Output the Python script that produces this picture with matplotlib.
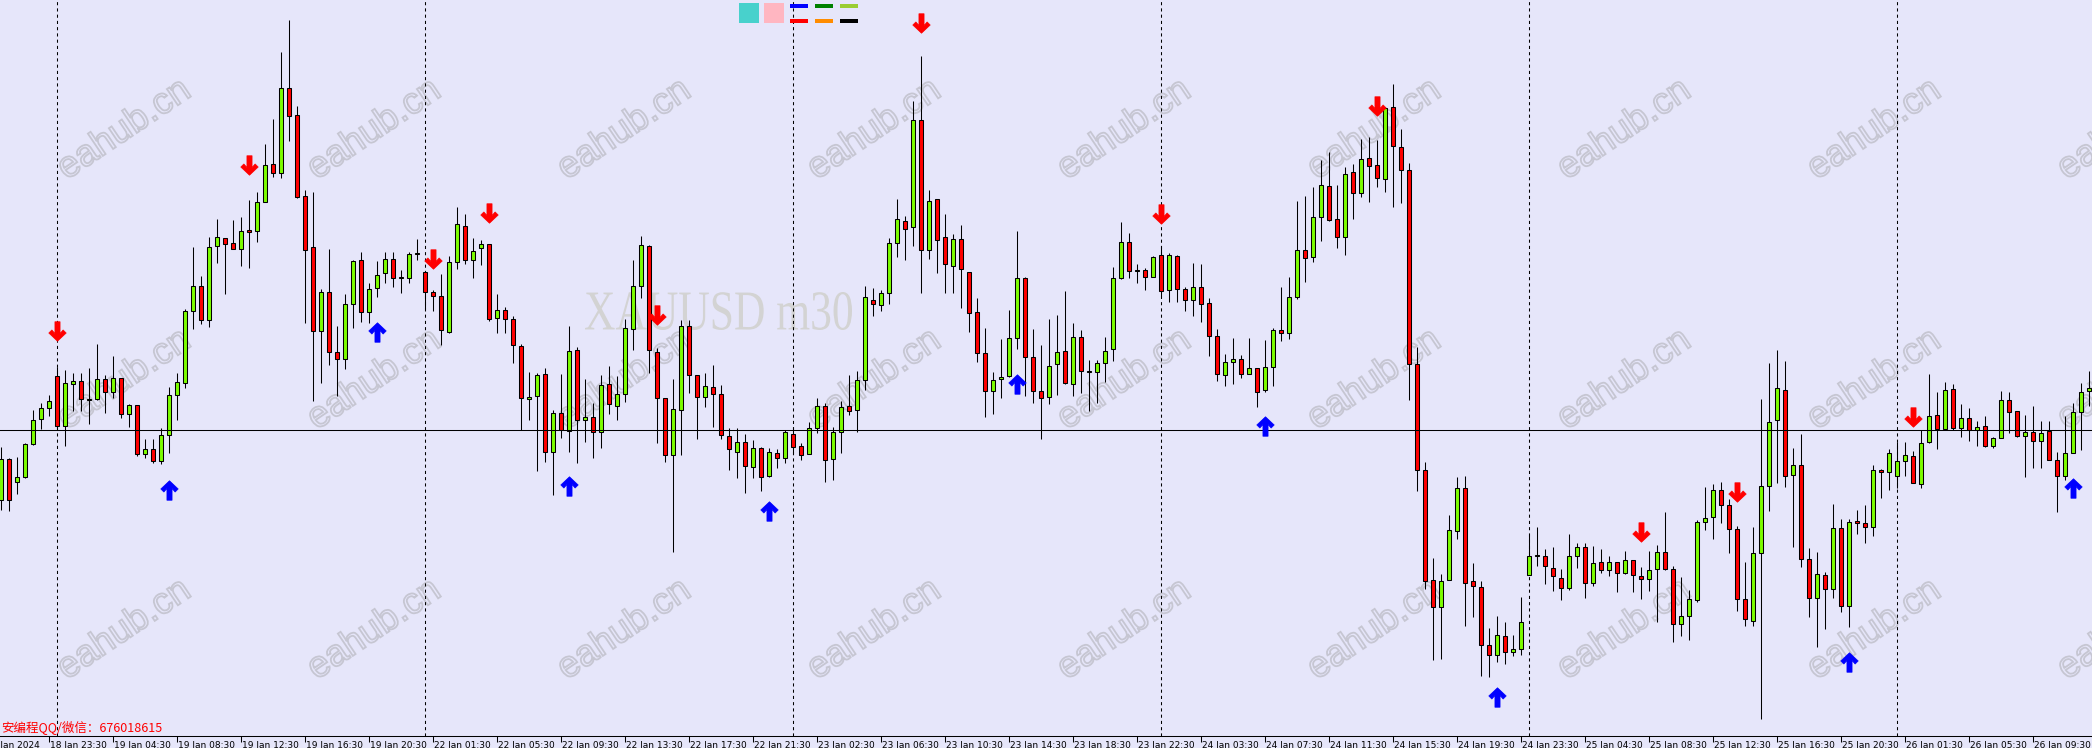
import numpy as np
import matplotlib.pyplot as plt
from matplotlib.path import Path
from matplotlib.patches import PathPatch, Rectangle
from matplotlib.textpath import TextPath
from matplotlib.font_manager import FontProperties
from matplotlib.transforms import Affine2D, IdentityTransform

# XAUUSD m30, 18 Jan 2024 - 26 Jan 2024 (one value per bar)
opens = [
    2020.0, 2024.1, 2021.8, 2022.3, 2025.6, 2028.1, 2029.2, 2032.4, 2027.4, 2031.6,
    2031.9, 2030.0, 2030.1, 2032.1, 2030.8, 2032.2, 2028.6, 2029.5, 2024.6, 2025.1,
    2023.9, 2026.5, 2030.5, 2031.7, 2038.9, 2041.4, 2038.0, 2045.4, 2046.2, 2045.7,
    2045.1, 2047.0, 2046.9, 2049.8, 2053.6, 2052.7, 2061.2, 2058.5, 2050.4, 2045.3,
    2036.9, 2040.8, 2034.8, 2034.1, 2039.6, 2044.0, 2038.8, 2041.2, 2042.7, 2044.1,
    2042.2, 2042.2, 2044.6, 2042.8, 2040.8, 2040.4, 2036.8, 2043.8, 2047.4, 2044.0,
    2045.2, 2045.6, 2038.2, 2039.0, 2038.1, 2035.4, 2030.1, 2030.4, 2032.6, 2024.8,
    2028.7, 2026.9, 2035.0, 2028.0, 2028.3, 2026.8, 2031.6, 2029.4, 2030.6, 2037.1,
    2041.4, 2045.4, 2034.8, 2030.2, 2024.5, 2029.0, 2037.4, 2032.5, 2030.3, 2031.3,
    2030.6, 2026.4, 2024.8, 2025.8, 2023.3, 2025.2, 2022.4, 2024.7, 2024.2, 2026.6,
    2025.4, 2024.6, 2027.2, 2029.4, 2024.1, 2026.8, 2029.4, 2029.0, 2032.0, 2040.0,
    2039.5, 2040.7, 2045.7, 2047.9, 2047.3, 2058.0, 2045.0, 2050.1, 2046.3, 2043.4,
    2046.1, 2042.8, 2038.8, 2034.7, 2030.9, 2032.1, 2032.4, 2036.2, 2042.2, 2034.3,
    2030.9, 2030.3, 2033.6, 2034.9, 2031.6, 2036.3, 2032.8, 2032.8, 2033.7, 2035.1,
    2042.2, 2045.8, 2042.9, 2043.0, 2042.3, 2044.5, 2041.0, 2044.4, 2041.1, 2040.0,
    2041.3, 2039.7, 2036.4, 2032.5, 2033.8, 2034.1, 2032.6, 2033.2, 2031.0, 2033.3,
    2037.0, 2036.7, 2040.3, 2045.0, 2044.3, 2048.3, 2051.4, 2048.1, 2046.3, 2052.8,
    2050.7, 2054.2, 2053.5, 2052.1, 2059.3, 2055.3, 2053.0, 2033.6, 2023.0, 2012.0,
    2009.3, 2012.0, 2016.9, 2021.2, 2011.9, 2011.3, 2005.5, 2004.5, 2006.4, 2004.8,
    2005.1, 2012.5, 2014.4, 2014.4, 2013.2, 2012.2, 2011.2, 2014.4, 2015.3, 2011.7,
    2013.8, 2013.0, 2013.8, 2012.7, 2014.0, 2012.4, 2012.1, 2013.1, 2014.8, 2013.1,
    2007.6, 2008.4, 2010.0, 2017.8, 2018.3, 2021.0, 2019.5, 2017.1, 2010.1, 2007.9,
    2014.7, 2021.4, 2028.0, 2031.0, 2022.5, 2023.5, 2014.1, 2010.2, 2012.5, 2011.1,
    2017.2, 2009.4, 2017.9, 2017.7, 2017.3, 2023.0, 2022.8, 2022.4, 2023.9, 2024.4,
    2021.6, 2025.8, 2028.5, 2027.1, 2031.1, 2027.2, 2028.2, 2027.0, 2027.4, 2025.4,
    2026.2, 2030.0, 2028.9, 2026.4, 2026.8, 2025.9, 2026.9, 2024.0, 2022.4, 2024.7,
    2028.8, 2030.9,
]
highs = [
    2025.3, 2024.2, 2024.3, 2025.7, 2029.0, 2029.7, 2030.5, 2033.3, 2033.0, 2032.7,
    2032.7, 2033.2, 2035.6, 2032.5, 2034.4, 2032.2, 2029.6, 2029.5, 2026.1, 2026.1,
    2027.2, 2031.3, 2032.7, 2039.1, 2045.3, 2042.4, 2046.3, 2048.1, 2046.2, 2048.0,
    2048.3, 2050.0, 2050.8, 2055.6, 2058.1, 2064.8, 2068.0, 2059.4, 2051.0, 2050.8,
    2041.1, 2045.1, 2037.4, 2040.6, 2044.0, 2044.8, 2041.7, 2043.9, 2044.8, 2044.8,
    2043.0, 2044.8, 2046.1, 2042.8, 2041.0, 2042.6, 2044.4, 2049.3, 2048.6, 2046.2,
    2046.0, 2045.6, 2040.6, 2039.3, 2038.4, 2035.6, 2032.8, 2032.7, 2033.2, 2029.0,
    2032.6, 2037.4, 2035.3, 2032.1, 2029.7, 2032.5, 2033.4, 2032.4, 2038.1, 2044.0,
    2046.4, 2045.5, 2035.2, 2030.2, 2032.1, 2038.0, 2038.0, 2032.5, 2032.7, 2033.5,
    2031.5, 2027.2, 2027.2, 2026.6, 2026.0, 2025.3, 2025.2, 2025.1, 2027.0, 2027.3,
    2025.7, 2027.8, 2030.2, 2029.7, 2027.3, 2029.9, 2032.5, 2032.9, 2041.4, 2041.2,
    2041.0, 2046.2, 2050.1, 2048.4, 2059.9, 2064.4, 2051.0, 2050.1, 2048.6, 2046.6,
    2047.5, 2042.8, 2040.2, 2037.2, 2032.8, 2036.1, 2039.0, 2046.9, 2042.3, 2037.1,
    2035.5, 2038.1, 2038.5, 2040.9, 2037.7, 2037.0, 2034.0, 2034.0, 2036.3, 2043.3,
    2047.8, 2046.7, 2043.6, 2043.2, 2044.4, 2045.4, 2044.7, 2044.5, 2041.3, 2043.7,
    2043.6, 2040.2, 2037.1, 2034.6, 2036.2, 2034.5, 2036.2, 2033.2, 2036.0, 2037.2,
    2041.3, 2042.3, 2049.9, 2050.4, 2051.3, 2054.0, 2054.8, 2051.5, 2053.3, 2053.6,
    2056.1, 2056.3, 2056.0, 2059.3, 2061.6, 2057.1, 2053.7, 2035.3, 2023.8, 2014.2,
    2012.6, 2018.5, 2022.3, 2022.4, 2013.7, 2011.9, 2007.2, 2008.4, 2007.8, 2006.5,
    2010.3, 2016.6, 2017.3, 2015.1, 2015.3, 2013.1, 2016.6, 2015.7, 2015.7, 2015.4,
    2015.1, 2014.4, 2013.8, 2014.9, 2014.0, 2013.3, 2014.9, 2015.5, 2018.8, 2013.4,
    2012.3, 2011.0, 2018.0, 2021.3, 2021.6, 2021.8, 2020.1, 2017.4, 2013.8, 2017.3,
    2030.1, 2033.7, 2035.0, 2033.9, 2025.2, 2026.6, 2015.2, 2014.8, 2012.8, 2019.6,
    2018.1, 2018.1, 2019.0, 2019.5, 2023.5, 2023.1, 2025.1, 2025.8, 2025.8, 2024.9,
    2027.0, 2032.6, 2030.8, 2031.8, 2031.6, 2029.6, 2029.2, 2027.9, 2028.4, 2026.3,
    2030.9, 2030.8, 2028.9, 2028.5, 2029.4, 2027.9, 2027.9, 2024.8, 2028.4, 2029.7,
    2031.7, 2032.9,
]
lows = [
    2019.0, 2018.9, 2020.6, 2022.2, 2025.5, 2027.1, 2028.4, 2027.1, 2025.4, 2028.9,
    2028.9, 2027.6, 2030.0, 2028.7, 2030.2, 2028.2, 2027.3, 2024.4, 2024.2, 2023.7,
    2023.6, 2024.7, 2028.0, 2031.2, 2037.1, 2037.6, 2037.3, 2043.7, 2040.6, 2045.1,
    2043.4, 2043.2, 2045.8, 2049.8, 2052.3, 2052.2, 2055.9, 2050.2, 2037.7, 2029.9,
    2031.7, 2033.5, 2030.4, 2033.1, 2037.2, 2037.8, 2037.7, 2040.3, 2041.7, 2041.3,
    2040.7, 2041.7, 2044.0, 2039.1, 2038.9, 2035.5, 2036.7, 2043.1, 2043.6, 2042.2,
    2043.5, 2037.9, 2036.7, 2036.7, 2033.7, 2027.0, 2028.0, 2022.9, 2023.8, 2020.5,
    2026.2, 2024.8, 2023.7, 2025.8, 2024.2, 2025.2, 2028.6, 2028.0, 2029.8, 2035.0,
    2040.2, 2032.7, 2025.7, 2023.8, 2014.8, 2024.5, 2030.7, 2026.1, 2029.3, 2027.3,
    2026.1, 2023.0, 2022.2, 2020.7, 2022.2, 2020.9, 2022.3, 2023.2, 2023.7, 2024.6,
    2024.0, 2024.6, 2026.7, 2021.8, 2022.0, 2024.7, 2028.5, 2026.8, 2031.0, 2038.4,
    2038.9, 2039.6, 2044.3, 2044.0, 2045.4, 2040.7, 2044.1, 2042.7, 2040.7, 2040.7,
    2039.2, 2036.8, 2033.8, 2028.3, 2028.6, 2030.2, 2032.3, 2035.1, 2030.4, 2029.7,
    2026.1, 2029.6, 2030.5, 2031.6, 2030.4, 2030.7, 2028.9, 2029.7, 2031.8, 2033.9,
    2042.1, 2042.2, 2041.7, 2041.0, 2042.3, 2040.3, 2039.8, 2039.8, 2038.9, 2038.4,
    2037.8, 2034.4, 2031.9, 2031.4, 2031.6, 2032.2, 2032.6, 2029.3, 2030.8, 2031.4,
    2035.9, 2036.1, 2040.1, 2041.8, 2043.8, 2045.9, 2047.9, 2045.2, 2044.5, 2048.1,
    2050.3, 2049.8, 2051.3, 2050.8, 2049.3, 2049.7, 2030.0, 2020.9, 2011.1, 2004.0,
    2004.1, 2012.0, 2016.1, 2007.4, 2008.3, 2002.4, 2002.3, 2003.8, 2003.6, 2004.4,
    2004.5, 2012.5, 2013.4, 2011.6, 2010.9, 2010.0, 2011.0, 2013.2, 2010.2, 2011.4,
    2012.7, 2012.4, 2010.8, 2012.6, 2010.8, 2010.1, 2010.9, 2007.8, 2013.0, 2005.8,
    2006.4, 2006.0, 2009.8, 2017.0, 2016.1, 2017.7, 2014.7, 2008.9, 2007.4, 2007.4,
    1998.1, 2018.9, 2021.7, 2021.3, 2015.3, 2013.3, 2008.3, 2005.3, 2007.1, 2010.2,
    2008.8, 2007.3, 2016.6, 2015.7, 2016.4, 2020.2, 2021.0, 2021.2, 2022.4, 2021.7,
    2021.2, 2025.7, 2025.1, 2027.0, 2027.0, 2026.3, 2025.9, 2025.4, 2025.3, 2025.2,
    2026.2, 2026.7, 2026.3, 2022.3, 2023.2, 2023.2, 2024.0, 2018.8, 2022.0, 2024.7,
    2025.0, 2029.4,
]
closes = [
    2024.1, 2020.0, 2022.3, 2025.6, 2028.0, 2029.2, 2029.9, 2027.4, 2031.7, 2031.9,
    2030.1, 2030.1, 2032.1, 2030.8, 2032.2, 2028.6, 2029.5, 2024.6, 2025.1, 2023.9,
    2026.5, 2030.5, 2031.8, 2038.9, 2041.4, 2038.0, 2045.3, 2046.3, 2045.6, 2045.1,
    2046.9, 2046.8, 2049.8, 2053.5, 2052.7, 2061.2, 2058.4, 2050.3, 2045.0, 2036.9,
    2040.8, 2034.8, 2034.1, 2039.6, 2043.9, 2038.8, 2041.1, 2042.5, 2044.1, 2042.2,
    2042.3, 2044.6, 2044.7, 2040.8, 2040.4, 2037.0, 2043.8, 2047.6, 2044.0, 2044.9,
    2045.6, 2038.1, 2039.0, 2038.1, 2035.5, 2030.2, 2030.3, 2032.5, 2024.8, 2028.7,
    2027.0, 2034.9, 2028.0, 2028.3, 2026.8, 2031.5, 2029.6, 2030.6, 2037.2, 2041.4,
    2045.5, 2035.0, 2030.2, 2024.5, 2029.1, 2037.4, 2032.5, 2030.3, 2031.4, 2030.6,
    2026.5, 2025.1, 2025.8, 2023.4, 2025.2, 2022.3, 2024.8, 2024.2, 2026.8, 2025.3,
    2024.5, 2027.2, 2029.4, 2024.0, 2026.8, 2029.3, 2028.9, 2032.0, 2040.3, 2039.6,
    2040.7, 2045.7, 2048.1, 2047.1, 2058.0, 2045.0, 2049.9, 2046.0, 2043.6, 2046.1,
    2043.1, 2038.7, 2034.7, 2030.9, 2032.0, 2032.3, 2036.2, 2042.2, 2034.3, 2030.9,
    2030.2, 2033.4, 2034.8, 2031.7, 2036.3, 2032.9, 2032.9, 2033.7, 2034.9, 2042.2,
    2045.8, 2042.9, 2043.0, 2042.3, 2044.3, 2040.9, 2044.5, 2041.1, 2040.0, 2041.3,
    2039.6, 2036.4, 2032.6, 2033.8, 2034.1, 2032.6, 2033.2, 2030.8, 2033.3, 2037.0,
    2036.7, 2040.3, 2045.0, 2044.2, 2048.3, 2051.5, 2048.0, 2046.3, 2052.6, 2050.7,
    2054.1, 2053.4, 2052.2, 2059.2, 2055.4, 2053.0, 2033.6, 2023.0, 2011.9, 2009.3,
    2011.9, 2017.0, 2021.2, 2011.7, 2011.4, 2005.5, 2004.5, 2006.5, 2004.8, 2005.1,
    2007.8, 2014.4, 2014.5, 2013.4, 2012.4, 2011.2, 2014.4, 2015.3, 2011.7, 2013.7,
    2013.0, 2013.8, 2012.7, 2014.0, 2012.5, 2012.1, 2013.0, 2014.8, 2013.1, 2007.6,
    2008.4, 2010.1, 2017.8, 2018.2, 2021.0, 2019.5, 2017.1, 2010.1, 2008.1, 2014.7,
    2021.4, 2027.8, 2031.2, 2022.4, 2023.5, 2014.1, 2010.2, 2012.6, 2011.1, 2017.2,
    2009.4, 2017.8, 2017.7, 2017.3, 2023.0, 2022.8, 2024.7, 2023.9, 2024.5, 2021.7,
    2025.7, 2028.4, 2027.1, 2031.0, 2027.2, 2028.2, 2027.0, 2027.3, 2025.4, 2026.2,
    2030.0, 2028.8, 2026.4, 2026.8, 2025.9, 2026.7, 2024.0, 2022.4, 2024.7, 2028.8,
    2030.8, 2031.2,
]

# signal arrows (bar index, price)
sell_bars = [7, 31, 54, 61, 82, 115, 145, 172, 205, 217, 239]
sell_prices = [2036.9, 2053.5, 2044.1, 2048.7, 2038.5, 2067.7, 2048.6, 2059.4, 2016.8, 2020.8, 2028.3]
buy_bars = [21, 47, 71, 96, 127, 158, 187, 231, 259]
buy_prices = [2021.0, 2036.8, 2021.4, 2018.9, 2031.6, 2027.4, 2000.3, 2003.8, 2021.2]

hline_price = 2027.0
sep_bars = [7, 53, 99, 145, 191, 237]   # first bar of each day

tick_bars = [-2] + list(range(6, 262, 8))
tick_labels = [
    "18 Jan 2024", "18 Jan 23:30", "19 Jan 04:30", "19 Jan 08:30", "19 Jan 12:30",
    "19 Jan 16:30", "19 Jan 20:30", "22 Jan 01:30", "22 Jan 05:30", "22 Jan 09:30",
    "22 Jan 13:30", "22 Jan 17:30", "22 Jan 21:30", "23 Jan 02:30", "23 Jan 06:30",
    "23 Jan 10:30", "23 Jan 14:30", "23 Jan 18:30", "23 Jan 22:30", "24 Jan 03:30",
    "24 Jan 07:30", "24 Jan 11:30", "24 Jan 15:30", "24 Jan 19:30", "24 Jan 23:30",
    "25 Jan 04:30", "25 Jan 08:30", "25 Jan 12:30", "25 Jan 16:30", "25 Jan 20:30",
    "26 Jan 01:30", "26 Jan 05:30", "26 Jan 09:30",
]

W, H = 2092, 748
AX_BOTTOM = 736          # pixel row of the time axis line
BG = '#E6E6FA'

fig = plt.figure(figsize=(W / 100, H / 100), dpi=100, facecolor=BG)
ax = fig.add_axes([0, (H - AX_BOTTOM) / H, 1, AX_BOTTOM / H])
ax.set_facecolor(BG)
ax.set_xlim(-0.5 / 8, (W - 0.5) / 8)
ax.set_ylim(1996.4, 2070.0)

# background watermarks (pixel coordinates)
wm = TextPath((0, 0), 'eahub.cn', size=1, prop=FontProperties(family='Liberation Sans'))
bb = wm.get_extents()
for cx in range(122, W + 200, 250):
    for cy in (127, 377, 627):
        tr = (Affine2D().translate(-(bb.x0 + bb.x1) / 2, -(bb.y0 + bb.y1) / 2)
              .scale(37).rotate_deg(34).translate(cx, H - cy))
        ax.add_patch(PathPatch(wm, transform=tr, fc='none', ec='#C6C6D2', lw=1.3, zorder=0.5))

sym = TextPath((0, 0), 'XAUUSD m30', size=1, prop=FontProperties(family='Liberation Serif'))
sb = sym.get_extents()
tr = (Affine2D().translate(-sb.x0, -sb.y0)
      .scale(267 / sb.width, 38 / sb.height).translate(585, H - 330))
ax.add_patch(PathPatch(sym, transform=tr, fc='#D3D3D3', ec='none', zorder=0.6))

# period separators and horizontal level
for b in sep_bars:
    ax.axvline(b, color='black', lw=0.75, ls=(0, (3, 3)), zorder=1)
ax.axhline(hline_price, color='black', lw=0.75, zorder=4)

# candles
o = np.array(opens)
hi = np.array(highs)
lo = np.array(lows)
c = np.array(closes)
idx = np.arange(len(o))
up = c >= o
ax.vlines(idx, lo, hi, colors='black', lw=0.75, zorder=2)
ax.bar(idx[up], c[up] - o[up], bottom=o[up], width=0.5, color='#7CFC00',
       edgecolor='black', linewidth=0.75, zorder=3)
ax.bar(idx[~up], o[~up] - c[~up], bottom=c[~up], width=0.5, color='#FF0000',
       edgecolor='black', linewidth=0.75, zorder=3)

# arrows (thick stem + chevron head)
down_v = [(-2.5, 9.5), (2.5, 9.5), (2.5, -2.0), (5.5, 1.5), (8.5, -1.5), (0, -9.5),
          (-8.5, -1.5), (-5.5, 1.5), (-2.5, -2.0), (-2.5, 9.5)]
down_arrow = Path(down_v, closed=True)
up_arrow = Path([(x, -y) for x, y in down_v], closed=True)
ax.plot(sell_bars, sell_prices, ls='none', marker=down_arrow, ms=14,
        mfc='#FF0000', mec='#FF0000', mew=0.5, zorder=6)
ax.plot(buy_bars, buy_prices, ls='none', marker=up_arrow, ms=14,
        mfc='#0000FF', mec='#0000FF', mew=0.5, zorder=6)

# indicator colour boxes at the top
px = IdentityTransform()
for col, x in [('#48D1CC', 739), ('#FFB6C1', 764)]:
    ax.add_patch(Rectangle((x, H - 23), 20, 20, transform=px, fc=col, ec='none', zorder=5))
for col, x, y in [('#0000FF', 790, 8), ('#008000', 815, 8), ('#9ACD32', 840, 8),
                  ('#FF0000', 790, 23), ('#FF8C00', 815, 23), ('#000000', 840, 23)]:
    ax.add_patch(Rectangle((x, H - y), 18, 4, transform=px, fc=col, ec='none', zorder=5))

# axes styling
for s in ('top', 'left', 'right'):
    ax.spines[s].set_visible(False)
ax.spines['bottom'].set_linewidth(0.75)
ax.set_yticks([])
ax.set_xticks(tick_bars[1:])
ax.tick_params(axis='x', direction='out', length=4, width=0.75, labelbottom=False)
for b, lab in zip(tick_bars, tick_labels):
    ax.annotate(lab, xy=(b, 0), xycoords=('data', 'axes fraction'), xytext=(2, -5),
                textcoords='offset pixels', ha='left', va='top', fontsize=6.5,
                family='DejaVu Sans', annotation_clip=False)

fig.text(1, H - 731, '安编程QQ/微信：676018615', transform=px, color='#FF0000',
         fontsize=9, family=['Noto Sans CJK SC', 'DejaVu Sans'], ha='left', va='baseline')

fig.savefig('out.png', dpi=100, facecolor=BG)
